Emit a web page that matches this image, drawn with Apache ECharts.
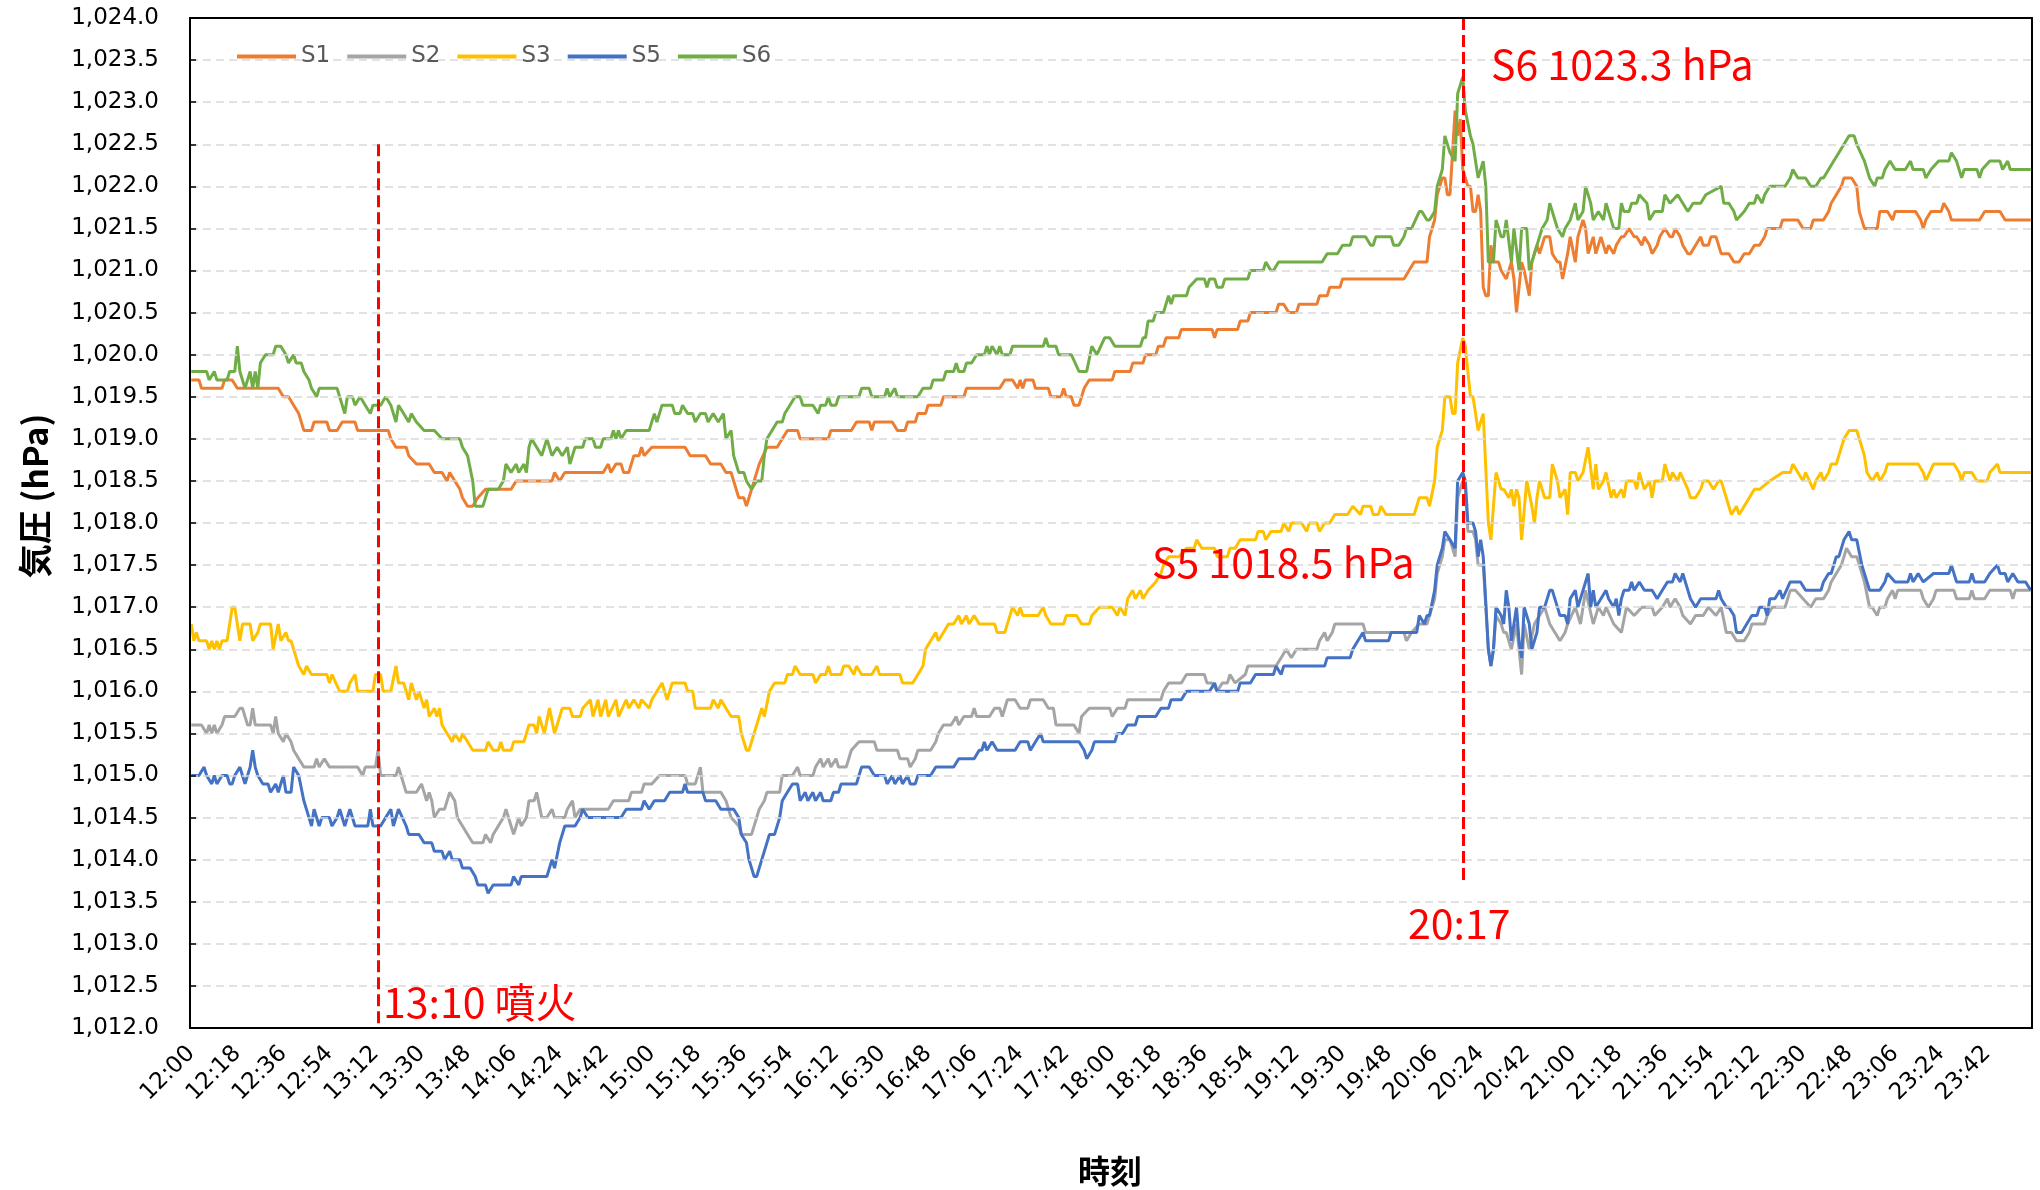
<!DOCTYPE html>
<html>
<head>
<meta charset="utf-8">
<script src="https://cdn.jsdelivr.net/npm/echarts@6/dist/echarts.min.js"></script>
<style>
  html, body { margin: 0; padding: 0; background: #fff; }
  #chart { width: 2040px; height: 1190px; }
</style>
</head>
<body>
<div id="chart"></div>
<script>
// 12:00 〜 23:59 の1分ごとのカテゴリ
var timeLabels = [];
for (var m = 0; m < 720; m++) {
  var hh = 12 + Math.floor(m / 60), mm = m % 60;
  timeLabels.push(hh + ':' + (mm < 10 ? '0' + mm : mm));
}

var seriesNames = ['S1', 'S2', 'S3', 'S5', 'S6'];
var seriesColors = ['#ED7D31', '#A5A5A5', '#FFC000', '#4472C4', '#70AD47'];

// [分(12:00からの経過), 気圧 hPa]
var s1 = [[0,1019.7],[3,1019.7],[4,1019.6],[12,1019.6],[13,1019.7],[16,1019.7],[18,1019.6],[34,1019.6],[36,1019.5],[38,1019.5],[40,1019.4],[42,1019.3],[44,1019.1],[47,1019.1],[48,1019.2],[53,1019.2],[54,1019.1],[57,1019.1],[59,1019.2],[64,1019.2],[65,1019.1],[77,1019.1],[78,1019.0],[80,1018.9],[84,1018.9],[85,1018.8],[88,1018.7],[93,1018.7],[95,1018.6],[98,1018.6],[100,1018.5],[101,1018.6],[103,1018.5],[105,1018.4],[106,1018.3],[108,1018.2],[110,1018.2],[112,1018.3],[115,1018.4],[125,1018.4],[127,1018.5],[141,1018.5],[142,1018.6],[144,1018.5],[146,1018.6],[161,1018.6],[163,1018.7],[164,1018.6],[166,1018.7],[168,1018.7],[169,1018.6],[171,1018.6],[173,1018.8],[175,1018.8],[176,1018.9],[177,1018.8],[180,1018.9],[193,1018.9],[195,1018.8],[201,1018.8],[203,1018.7],[207,1018.7],[209,1018.6],[211,1018.6],[212,1018.5],[214,1018.3],[216,1018.3],[217,1018.2],[218,1018.3],[220,1018.5],[222,1018.7],[225,1018.9],[229,1018.9],[231,1019.0],[233,1019.1],[237,1019.1],[238,1019.0],[241,1019.0],
  [244,1019.0],[249,1019.0],[250,1019.1],[258,1019.1],[260,1019.2],[265,1019.2],[266,1019.1],[267,1019.2],[274,1019.2],[276,1019.1],[279,1019.1],[280,1019.2],[283,1019.2],[284,1019.3],[287,1019.3],[288,1019.4],[293,1019.4],[294,1019.5],[302,1019.5],[303,1019.6],[316,1019.6],[318,1019.7],[321,1019.7],[323,1019.6],[324,1019.7],[325,1019.6],[326,1019.7],[329,1019.7],[330,1019.6],[335,1019.6],[336,1019.5],[340,1019.5],[341,1019.6],[342,1019.5],[344,1019.5],[345,1019.4],[347,1019.4],[349,1019.6],[351,1019.7],[360,1019.7],[361,1019.8],[367,1019.8],[368,1019.9],[372,1019.9],[373,1020.0],[377,1020.0],[378,1020.1],[380,1020.1],[381,1020.2],[386,1020.2],[387,1020.3],[399,1020.3],[400,1020.2],[401,1020.3],[409,1020.3],[410,1020.4],[413,1020.4],[414,1020.5],[424,1020.5],[425,1020.6],[427,1020.6],[429,1020.5],[432,1020.5],[433,1020.6],[440,1020.6],[441,1020.7],[444,1020.7],[445,1020.8],[449,1020.8],[450,1020.9],[474,1020.9],[476,1021.0],[478,1021.1],[480,1021.1],
  [481,1021.1],[483,1021.1],[484,1021.4],[486,1021.6],[487,1021.9],[489,1022.1],[490,1022.1],[491,1021.9],[492,1021.9],[494,1022.9],[495,1022.6],[496,1022.8],[497,1022.2],[498,1022.1],[499,1022.0],[500,1022.0],[501,1021.7],[502,1021.7],[503,1021.9],[504,1021.7],[505,1020.8],[506,1020.7],[507,1020.7],[508,1021.3],[509,1021.1],[511,1021.1],[512,1021.0],[514,1020.9],[516,1021.1],[517,1020.9],[518,1020.5],[520,1021.1],[521,1021.0],[523,1020.7],[524,1021.1],[526,1021.3],[527,1021.2],[529,1021.4],[531,1021.4],[532,1021.2],[534,1021.1],[535,1021.1],[536,1020.9],[538,1021.2],[539,1021.4],[541,1021.1],[542,1021.4],[544,1021.6],[545,1021.5],[546,1021.2],[548,1021.4],[549,1021.2],[551,1021.4],[553,1021.2],[554,1021.3],[556,1021.2],[557,1021.3],[559,1021.4],[560,1021.4],[562,1021.5],[564,1021.4],[565,1021.4],[567,1021.3],[568,1021.4],[570,1021.3],[571,1021.2],[573,1021.3],[574,1021.4],[576,1021.5],[578,1021.4],[579,1021.4],[580,1021.5],[582,1021.4],[583,1021.3],[585,1021.2],[586,1021.2],[588,1021.3],[590,1021.4],[591,1021.3],[593,1021.3],[594,1021.4],[596,1021.4],[598,1021.2],[601,1021.2],[603,1021.1],[605,1021.1],[607,1021.2],[609,1021.2],[611,1021.3],[613,1021.3],[615,1021.4],[616,1021.5],[621,1021.5],[622,1021.6],[628,1021.6],[630,1021.5],[633,1021.5],[634,1021.6],[638,1021.6],[640,1021.7],[641,1021.8],[643,1021.9],[645,1022.0],[646,1022.1],[649,1022.1],[651,1022.0],[652,1021.7],[654,1021.5],[659,1021.5],[660,1021.7],[663,1021.7],[665,1021.6],[666,1021.7],[674,1021.7],[676,1021.6],[677,1021.5],[678,1021.6],[680,1021.7],[684,1021.7],[685,1021.8],[687,1021.7],[688,1021.6],[699,1021.6],[701,1021.7],[707,1021.7],[709,1021.6],[719,1021.6]];

var s2 = [[0,1015.6],[4,1015.6],[6,1015.5],[7,1015.6],[8,1015.5],[9,1015.6],[10,1015.5],[12,1015.6],[13,1015.7],[17,1015.7],[19,1015.8],[20,1015.8],[22,1015.6],[23,1015.6],[24,1015.8],[25,1015.6],[31,1015.6],[32,1015.5],[33,1015.7],[34,1015.5],[36,1015.4],[37,1015.5],[39,1015.4],[40,1015.3],[42,1015.2],[44,1015.1],[48,1015.1],[49,1015.2],[50,1015.1],[52,1015.2],[54,1015.1],[65,1015.1],[67,1015.0],[68,1015.1],[72,1015.1],[73,1015.3],[74,1015.0],[80,1015.0],[81,1015.1],[82,1015.0],[84,1014.8],[88,1014.8],[90,1014.9],[91,1014.8],[92,1014.7],[93,1014.8],[94,1014.7],[95,1014.5],[97,1014.6],[99,1014.6],[100,1014.7],[101,1014.8],[103,1014.7],[104,1014.5],[106,1014.4],[108,1014.3],[110,1014.2],[114,1014.2],[115,1014.3],[117,1014.2],[118,1014.3],[120,1014.4],[122,1014.5],[123,1014.6],[125,1014.4],[126,1014.3],[128,1014.5],[129,1014.4],[131,1014.5],[132,1014.7],[134,1014.7],[135,1014.8],[137,1014.5],[139,1014.5],[141,1014.6],[142,1014.5],[146,1014.5],[147,1014.6],[149,1014.7],[150,1014.5],[152,1014.6],[163,1014.6],[165,1014.7],[171,1014.7],[172,1014.8],[176,1014.8],[177,1014.9],[180,1014.9],[183,1015.0],[193,1015.0],[194,1014.9],[197,1014.9],[199,1015.1],[200,1014.8],[207,1014.8],[209,1014.7],[211,1014.5],[214,1014.4],[215,1014.3],[219,1014.3],[221,1014.5],[222,1014.6],[224,1014.7],[225,1014.8],[230,1014.8],[231,1015.0],[235,1015.0],[237,1015.1],[238,1015.0],[241,1015.0],
  [243,1015.0],[244,1015.1],[246,1015.2],[247,1015.1],[249,1015.2],[250,1015.1],[252,1015.2],[253,1015.1],[256,1015.1],[258,1015.3],[261,1015.4],[267,1015.4],[268,1015.3],[276,1015.3],[277,1015.2],[280,1015.2],[281,1015.1],[283,1015.2],[284,1015.3],[289,1015.3],[291,1015.4],[292,1015.5],[294,1015.6],[297,1015.6],[299,1015.7],[300,1015.6],[302,1015.7],[305,1015.7],[306,1015.8],[307,1015.7],[312,1015.7],[314,1015.8],[316,1015.8],[317,1015.7],[319,1015.9],[322,1015.9],[324,1015.8],[327,1015.8],[328,1015.9],[333,1015.9],[335,1015.8],[337,1015.8],[338,1015.6],[345,1015.6],[347,1015.5],[348,1015.7],[351,1015.8],[359,1015.8],[360,1015.7],[362,1015.8],[365,1015.8],[366,1015.9],[379,1015.9],[380,1016.0],[382,1016.1],[387,1016.1],[389,1016.2],[396,1016.2],[397,1016.1],[399,1016.1],[401,1016.0],[403,1016.1],[405,1016.1],[406,1016.2],[408,1016.1],[412,1016.2],[413,1016.3],[424,1016.3],[426,1016.4],[428,1016.5],[430,1016.4],[432,1016.5],[440,1016.5],[441,1016.6],[443,1016.7],[444,1016.6],[446,1016.7],[447,1016.8],[458,1016.8],[459,1016.7],[474,1016.7],[475,1016.6],[477,1016.7],[480,1016.8],
  [481,1016.8],[483,1016.8],[484,1016.9],[486,1017.1],[487,1017.4],[489,1017.6],[490,1017.8],[492,1017.8],[494,1017.6],[495,1018.3],[497,1018.5],[498,1018.4],[499,1017.9],[501,1017.9],[502,1017.8],[503,1017.5],[505,1017.5],[507,1016.5],[508,1016.3],[509,1016.5],[510,1016.9],[512,1016.8],[513,1016.7],[514,1016.7],[516,1016.5],[518,1016.8],[520,1016.2],[521,1016.8],[523,1016.5],[525,1016.8],[527,1016.9],[529,1017.0],[531,1016.8],[533,1016.7],[535,1016.6],[537,1016.7],[538,1016.8],[541,1017.0],[543,1016.8],[545,1017.2],[548,1016.8],[550,1017.0],[552,1016.9],[553,1017.0],[556,1016.8],[559,1016.7],[561,1017.0],[564,1016.9],[567,1017.0],[571,1017.0],[572,1016.9],[575,1017.0],[577,1017.1],[578,1017.0],[580,1017.1],[582,1017.0],[583,1016.9],[586,1016.8],[588,1016.9],[591,1016.9],[593,1017.0],[596,1016.9],[598,1017.0],[600,1016.7],[602,1016.7],[604,1016.6],[607,1016.6],[609,1016.7],[610,1016.8],[615,1016.8],[616,1016.9],[618,1017.0],[623,1017.0],[625,1017.2],[627,1017.2],[630,1017.1],[633,1017.0],[635,1017.1],[638,1017.1],[640,1017.2],[641,1017.3],[643,1017.4],[645,1017.5],[647,1017.7],[649,1017.6],[651,1017.6],[654,1017.3],[656,1017.0],[657,1017.0],[659,1016.9],[660,1017.0],[662,1017.0],[663,1017.1],[665,1017.2],[666,1017.1],[667,1017.2],[676,1017.2],[677,1017.1],[679,1017.0],[681,1017.1],[682,1017.2],[689,1017.2],[690,1017.1],[695,1017.1],[696,1017.2],[697,1017.1],[701,1017.1],[703,1017.2],[711,1017.2],[712,1017.1],[713,1017.2],[719,1017.2]];

var s3 = [[0,1016.8],[1,1016.6],[2,1016.7],[3,1016.6],[6,1016.6],[7,1016.5],[8,1016.6],[9,1016.5],[10,1016.6],[11,1016.5],[12,1016.6],[14,1016.6],[16,1017.0],[17,1017.0],[19,1016.6],[20,1016.8],[23,1016.8],[24,1016.6],[26,1016.7],[27,1016.8],[31,1016.8],[32,1016.5],[34,1016.8],[35,1016.6],[37,1016.7],[38,1016.6],[39,1016.6],[40,1016.5],[42,1016.3],[44,1016.2],[45,1016.3],[47,1016.2],[53,1016.2],[54,1016.1],[55,1016.2],[58,1016.0],[61,1016.0],[62,1016.1],[64,1016.2],[65,1016.0],[71,1016.0],[72,1016.2],[74,1016.2],[75,1016.0],[78,1016.0],[80,1016.3],[81,1016.1],[83,1016.1],[85,1015.9],[86,1016.1],[88,1015.9],[89,1016.0],[91,1015.8],[92,1015.9],[93,1015.7],[95,1015.8],[96,1015.7],[97,1015.8],[98,1015.6],[100,1015.5],[102,1015.4],[103,1015.5],[105,1015.4],[106,1015.5],[108,1015.4],[110,1015.3],[115,1015.3],[116,1015.4],[118,1015.3],[120,1015.3],[121,1015.4],[122,1015.3],[125,1015.3],[126,1015.4],[130,1015.4],[132,1015.6],[134,1015.6],[135,1015.5],[136,1015.7],[138,1015.5],[140,1015.8],[142,1015.5],[143,1015.6],[145,1015.8],[148,1015.8],[149,1015.7],[152,1015.7],[153,1015.8],[156,1015.9],[157,1015.7],[159,1015.9],[160,1015.7],[162,1015.9],[163,1015.7],[166,1015.9],[167,1015.7],[170,1015.9],[171,1015.8],[173,1015.9],[175,1015.8],[176,1015.9],[179,1015.8],[180,1015.9],[182,1016.0],[184,1016.1],[186,1015.9],[188,1016.1],[193,1016.1],[194,1016.0],[196,1016.0],[197,1015.8],[203,1015.8],[204,1015.9],[206,1015.8],[207,1015.9],[209,1015.8],[211,1015.7],[214,1015.7],[215,1015.5],[217,1015.3],[218,1015.3],[220,1015.5],[221,1015.6],[223,1015.8],[224,1015.7],[226,1016.0],[228,1016.1],[232,1016.1],[233,1016.2],[235,1016.2],[236,1016.3],[238,1016.2],[241,1016.2],
  [243,1016.2],[244,1016.1],[246,1016.2],[248,1016.2],[249,1016.3],[250,1016.2],[254,1016.2],[255,1016.3],[257,1016.3],[259,1016.2],[260,1016.3],[262,1016.2],[266,1016.2],[268,1016.3],[269,1016.2],[277,1016.2],[278,1016.1],[282,1016.1],[284,1016.2],[286,1016.3],[287,1016.5],[289,1016.6],[291,1016.7],[292,1016.6],[294,1016.7],[296,1016.8],[298,1016.8],[300,1016.9],[301,1016.8],[303,1016.9],[304,1016.8],[306,1016.9],[308,1016.8],[314,1016.8],[315,1016.7],[318,1016.7],[320,1016.9],[321,1017.0],[323,1016.9],[324,1017.0],[325,1016.9],[331,1016.9],[333,1017.0],[334,1016.9],[336,1016.8],[341,1016.8],[342,1016.9],[346,1016.9],[348,1016.8],[351,1016.8],[352,1016.9],[355,1017.0],[360,1017.0],[362,1016.9],[363,1017.0],[365,1016.9],[366,1017.1],[368,1017.2],[369,1017.1],[371,1017.2],[372,1017.1],[374,1017.2],[377,1017.3],[379,1017.4],[380,1017.5],[382,1017.6],[386,1017.6],[389,1017.7],[392,1017.7],[393,1017.8],[395,1017.7],[400,1017.7],[401,1017.6],[405,1017.6],[406,1017.7],[408,1017.7],[410,1017.8],[416,1017.8],[417,1017.9],[419,1017.9],[420,1017.8],[422,1017.9],[426,1017.9],[427,1018.0],[429,1017.9],[430,1018.0],[434,1018.0],[436,1017.9],[437,1018.0],[440,1018.0],[441,1017.9],[443,1018.0],[445,1018.0],[447,1018.1],[452,1018.1],[454,1018.2],[457,1018.1],[458,1018.2],[461,1018.2],[462,1018.1],[464,1018.1],[465,1018.2],[467,1018.1],[478,1018.1],[480,1018.3],
  [481,1018.3],[483,1018.3],[484,1018.2],[486,1018.5],[487,1018.9],[489,1019.1],[490,1019.5],[492,1019.5],[493,1019.3],[494,1019.3],[495,1019.9],[497,1020.2],[498,1020.1],[500,1019.5],[501,1019.5],[502,1019.3],[503,1019.1],[505,1019.3],[507,1018.0],[508,1017.8],[509,1018.2],[510,1018.6],[512,1018.4],[513,1018.4],[515,1018.3],[516,1018.4],[517,1018.2],[518,1018.4],[519,1018.3],[520,1017.8],[522,1018.5],[524,1018.2],[525,1018.0],[526,1018.3],[527,1018.5],[529,1018.3],[531,1018.3],[532,1018.7],[534,1018.5],[535,1018.3],[537,1018.4],[538,1018.1],[539,1018.6],[541,1018.6],[542,1018.5],[544,1018.6],[546,1018.9],[548,1018.4],[549,1018.7],[550,1018.4],[552,1018.5],[553,1018.6],[555,1018.3],[556,1018.4],[557,1018.3],[559,1018.4],[560,1018.3],[561,1018.5],[564,1018.5],[565,1018.4],[566,1018.6],[568,1018.4],[570,1018.5],[571,1018.3],[572,1018.5],[575,1018.5],[576,1018.7],[578,1018.5],[579,1018.6],[581,1018.5],[582,1018.6],[585,1018.4],[586,1018.3],[588,1018.3],[590,1018.4],[591,1018.5],[593,1018.5],[595,1018.4],[597,1018.5],[598,1018.5],[600,1018.3],[602,1018.1],[604,1018.2],[605,1018.1],[607,1018.2],[609,1018.3],[611,1018.4],[613,1018.4],[617,1018.5],[622,1018.6],[625,1018.6],[626,1018.7],[628,1018.6],[630,1018.5],[631,1018.6],[634,1018.4],[635,1018.5],[637,1018.6],[638,1018.5],[640,1018.6],[641,1018.7],[643,1018.7],[645,1018.9],[646,1019.0],[648,1019.1],[651,1019.1],[652,1019.0],[654,1018.8],[655,1018.6],[657,1018.5],[659,1018.6],[660,1018.5],[662,1018.6],[663,1018.7],[675,1018.7],[677,1018.6],[678,1018.5],[681,1018.7],[689,1018.7],[691,1018.6],[692,1018.5],[693,1018.6],[696,1018.6],[698,1018.5],[702,1018.5],[703,1018.6],[706,1018.7],[707,1018.6],[719,1018.6]];

var s5 = [[0,1015.0],[3,1015.0],[5,1015.1],[6,1015.0],[8,1014.9],[9,1015.0],[10,1014.9],[12,1015.0],[14,1015.0],[15,1014.9],[16,1014.9],[17,1015.0],[19,1015.1],[20,1015.0],[21,1014.9],[23,1015.1],[24,1015.3],[25,1015.1],[26,1015.0],[28,1014.9],[30,1014.9],[31,1014.8],[33,1014.9],[34,1014.8],[36,1015.0],[37,1014.8],[39,1014.8],[40,1015.1],[42,1015.0],[44,1014.7],[45,1014.6],[47,1014.4],[48,1014.6],[50,1014.4],[51,1014.5],[54,1014.5],[55,1014.4],[57,1014.5],[58,1014.6],[60,1014.4],[62,1014.6],[64,1014.4],[69,1014.4],[70,1014.6],[71,1014.4],[74,1014.4],[76,1014.5],[78,1014.6],[79,1014.4],[81,1014.6],[84,1014.4],[85,1014.3],[89,1014.3],[91,1014.2],[94,1014.2],[95,1014.1],[98,1014.1],[99,1014.0],[101,1014.1],[102,1014.0],[105,1014.0],[106,1013.9],[109,1013.9],[111,1013.8],[112,1013.7],[115,1013.7],[116,1013.6],[118,1013.7],[125,1013.7],[126,1013.8],[128,1013.7],[129,1013.8],[139,1013.8],[140,1013.9],[141,1014.0],[142,1013.9],[144,1014.2],[146,1014.4],[150,1014.4],[152,1014.5],[153,1014.6],[155,1014.5],[168,1014.5],[170,1014.6],[176,1014.6],[177,1014.7],[179,1014.6],[181,1014.7],[185,1014.7],[187,1014.8],[192,1014.8],[193,1014.9],[194,1014.8],[200,1014.8],[201,1014.7],[205,1014.7],[207,1014.6],[212,1014.6],[214,1014.5],[215,1014.3],[217,1014.2],[218,1014.0],[220,1013.8],[221,1013.8],[223,1014.0],[224,1014.1],[226,1014.3],[228,1014.3],[230,1014.5],[231,1014.7],[233,1014.8],[235,1014.9],[237,1014.9],[238,1014.7],[240,1014.8],[241,1014.7],
  [243,1014.8],[244,1014.7],[246,1014.8],[247,1014.7],[250,1014.7],[251,1014.8],[253,1014.8],[254,1014.9],[260,1014.9],[262,1015.1],[265,1015.1],[267,1015.0],[271,1015.0],[272,1014.9],[274,1015.0],[275,1014.9],[277,1015.0],[278,1014.9],[280,1015.0],[281,1014.9],[283,1014.9],[284,1015.0],[289,1015.0],[291,1015.1],[298,1015.1],[300,1015.2],[306,1015.2],[308,1015.3],[309,1015.3],[310,1015.4],[311,1015.3],[313,1015.4],[315,1015.3],[322,1015.3],[324,1015.4],[327,1015.4],[328,1015.3],[330,1015.4],[332,1015.5],[333,1015.4],[347,1015.4],[349,1015.3],[350,1015.2],[352,1015.3],[353,1015.4],[361,1015.4],[362,1015.5],[364,1015.5],[366,1015.6],[369,1015.6],[370,1015.7],[377,1015.7],[379,1015.8],[382,1015.8],[383,1015.9],[387,1015.9],[389,1016.0],[398,1016.0],[400,1016.1],[401,1016.0],[409,1016.0],[410,1016.1],[414,1016.1],[416,1016.2],[423,1016.2],[424,1016.3],[426,1016.2],[427,1016.3],[443,1016.3],[444,1016.4],[453,1016.4],[454,1016.5],[456,1016.6],[458,1016.7],[459,1016.6],[468,1016.6],[469,1016.7],[479,1016.7],[480,1016.9],
  [482,1016.8],[483,1016.9],[484,1016.9],[486,1017.2],[487,1017.5],[489,1017.7],[490,1017.9],[492,1017.8],[494,1017.7],[495,1018.5],[497,1018.6],[498,1018.5],[499,1018.0],[501,1018.0],[502,1017.9],[503,1017.6],[504,1017.8],[505,1017.6],[507,1016.5],[508,1016.3],[509,1016.5],[510,1017.0],[512,1016.9],[513,1016.8],[514,1017.2],[515,1017.0],[516,1016.6],[518,1017.0],[519,1016.6],[520,1016.4],[521,1017.0],[523,1016.8],[524,1016.5],[526,1016.7],[527,1017.0],[529,1017.0],[531,1017.2],[532,1017.2],[534,1017.0],[535,1016.9],[537,1016.9],[538,1016.8],[539,1017.1],[541,1017.2],[542,1017.0],[544,1017.2],[546,1017.4],[547,1017.0],[548,1017.2],[549,1017.0],[551,1017.1],[553,1017.2],[554,1017.1],[556,1017.0],[557,1017.1],[558,1016.9],[559,1017.1],[560,1017.2],[562,1017.2],[563,1017.3],[564,1017.2],[566,1017.3],[568,1017.2],[571,1017.2],[573,1017.1],[575,1017.2],[577,1017.3],[579,1017.3],[580,1017.4],[582,1017.3],[583,1017.4],[585,1017.2],[586,1017.1],[588,1017.0],[590,1017.1],[596,1017.1],[597,1017.2],[598,1017.1],[600,1017.0],[601,1017.0],[603,1016.9],[604,1016.7],[606,1016.7],[608,1016.8],[610,1016.9],[612,1016.9],[613,1017.0],[615,1017.0],[616,1016.9],[617,1017.1],[619,1017.1],[621,1017.2],[622,1017.1],[625,1017.3],[629,1017.3],[631,1017.2],[637,1017.2],[638,1017.3],[640,1017.4],[641,1017.4],[643,1017.6],[644,1017.6],[646,1017.8],[648,1017.9],[649,1017.8],[651,1017.8],[653,1017.5],[655,1017.3],[656,1017.2],[660,1017.2],[662,1017.3],[663,1017.4],[666,1017.3],[671,1017.3],[672,1017.4],[673,1017.3],[675,1017.4],[677,1017.3],[681,1017.4],[687,1017.4],[688,1017.5],[690,1017.3],[695,1017.3],[696,1017.4],[697,1017.3],[701,1017.3],[703,1017.4],[706,1017.5],[707,1017.4],[709,1017.4],[710,1017.3],[712,1017.4],[714,1017.3],[717,1017.3],[719,1017.2]];

var s6 = [[0,1019.8],[6,1019.8],[7,1019.7],[9,1019.8],[10,1019.7],[14,1019.7],[15,1019.8],[17,1019.8],[18,1020.1],[19,1019.8],[21,1019.6],[23,1019.8],[24,1019.6],[25,1019.8],[26,1019.6],[27,1019.9],[29,1020.0],[32,1020.0],[33,1020.1],[35,1020.1],[37,1020.0],[38,1019.9],[40,1020.0],[41,1019.9],[43,1019.9],[44,1019.8],[46,1019.7],[47,1019.6],[49,1019.5],[50,1019.6],[57,1019.6],[58,1019.5],[60,1019.3],[61,1019.5],[63,1019.5],[64,1019.4],[66,1019.5],[68,1019.4],[70,1019.3],[71,1019.4],[74,1019.4],[76,1019.5],[78,1019.4],[80,1019.2],[81,1019.4],[83,1019.3],[85,1019.2],[86,1019.3],[88,1019.2],[91,1019.1],[95,1019.1],[98,1019.0],[105,1019.0],[106,1018.9],[108,1018.8],[110,1018.5],[111,1018.2],[114,1018.2],[116,1018.4],[120,1018.4],[122,1018.5],[123,1018.7],[125,1018.6],[127,1018.7],[128,1018.6],[130,1018.7],[131,1018.6],[132,1018.9],[133,1019.0],[135,1018.9],[137,1018.8],[139,1019.0],[141,1018.8],[143,1018.9],[145,1018.8],[147,1018.9],[148,1018.7],[150,1018.9],[153,1018.9],[154,1019.0],[157,1019.0],[158,1018.9],[160,1018.9],[161,1019.0],[164,1019.0],[165,1019.1],[166,1019.0],[167,1019.1],[168,1019.0],[170,1019.1],[179,1019.1],[181,1019.3],[182,1019.2],[184,1019.4],[188,1019.4],[189,1019.3],[191,1019.3],[192,1019.4],[194,1019.3],[196,1019.3],[197,1019.2],[199,1019.3],[201,1019.3],[202,1019.2],[204,1019.3],[206,1019.2],[208,1019.3],[209,1019.0],[211,1019.1],[212,1018.8],[214,1018.6],[216,1018.6],[217,1018.5],[219,1018.4],[221,1018.5],[223,1018.5],[224,1018.8],[225,1019.0],[227,1019.1],[229,1019.2],[231,1019.2],[232,1019.3],[234,1019.4],[236,1019.5],[238,1019.5],[239,1019.4],[241,1019.4],
  [243,1019.4],[245,1019.3],[246,1019.4],[248,1019.4],[249,1019.5],[250,1019.4],[252,1019.4],[253,1019.5],[261,1019.5],[262,1019.6],[265,1019.6],[266,1019.5],[271,1019.5],[272,1019.6],[273,1019.5],[275,1019.6],[276,1019.5],[284,1019.5],[286,1019.6],[289,1019.6],[290,1019.7],[294,1019.7],[295,1019.8],[298,1019.8],[299,1019.9],[300,1019.8],[302,1019.8],[303,1019.9],[305,1019.9],[307,1020.0],[310,1020.0],[311,1020.1],[312,1020.0],[313,1020.1],[315,1020.0],[316,1020.1],[317,1020.0],[320,1020.0],[321,1020.1],[333,1020.1],[334,1020.2],[335,1020.1],[338,1020.1],[339,1020.0],[344,1020.0],[347,1019.8],[350,1019.8],[352,1020.1],[354,1020.0],[357,1020.2],[359,1020.2],[361,1020.1],[371,1020.1],[372,1020.2],[373,1020.2],[374,1020.4],[376,1020.4],[377,1020.5],[380,1020.5],[382,1020.7],[383,1020.6],[384,1020.7],[389,1020.7],[390,1020.8],[393,1020.9],[396,1020.9],[397,1020.8],[398,1020.9],[400,1020.9],[401,1020.8],[403,1020.8],[404,1020.9],[413,1020.9],[414,1021.0],[419,1021.0],[420,1021.1],[422,1021.0],[423,1021.0],[425,1021.1],[442,1021.1],[444,1021.2],[448,1021.2],[450,1021.3],[453,1021.3],[454,1021.4],[459,1021.4],[461,1021.3],[462,1021.3],[463,1021.4],[469,1021.4],[470,1021.3],[472,1021.3],[474,1021.4],[475,1021.5],[477,1021.5],[480,1021.7],
  [481,1021.7],[483,1021.6],[484,1021.6],[486,1021.7],[487,1022.0],[489,1022.2],[490,1022.6],[492,1022.4],[494,1022.3],[495,1023.1],[497,1023.3],[498,1022.9],[500,1022.6],[501,1022.5],[503,1022.1],[505,1022.3],[506,1022.0],[507,1021.1],[509,1021.1],[510,1021.6],[512,1021.4],[513,1021.4],[514,1021.6],[516,1021.1],[517,1021.5],[519,1021.0],[520,1021.5],[522,1021.5],[523,1021.0],[525,1021.2],[527,1021.4],[528,1021.5],[530,1021.6],[531,1021.8],[533,1021.6],[534,1021.5],[536,1021.4],[537,1021.5],[539,1021.6],[541,1021.8],[542,1021.6],[544,1021.7],[545,1022.0],[547,1021.8],[548,1021.6],[550,1021.7],[552,1021.6],[553,1021.8],[555,1021.6],[556,1021.5],[558,1021.5],[559,1021.8],[560,1021.7],[562,1021.7],[563,1021.8],[565,1021.8],[566,1021.9],[569,1021.8],[570,1021.6],[572,1021.7],[575,1021.7],[576,1021.9],[578,1021.8],[581,1021.9],[583,1021.8],[585,1021.7],[587,1021.8],[590,1021.8],[592,1021.9],[598,1022.0],[599,1021.8],[601,1021.8],[603,1021.7],[604,1021.6],[607,1021.7],[609,1021.8],[611,1021.8],[612,1021.9],[614,1021.8],[615,1021.9],[617,1022.0],[623,1022.0],[625,1022.1],[626,1022.2],[628,1022.1],[631,1022.1],[633,1022.0],[635,1022.0],[637,1022.1],[638,1022.1],[640,1022.2],[642,1022.3],[644,1022.4],[646,1022.5],[648,1022.6],[650,1022.6],[651,1022.5],[654,1022.3],[656,1022.1],[658,1022.0],[659,1022.1],[661,1022.1],[662,1022.2],[664,1022.3],[666,1022.2],[670,1022.2],[672,1022.3],[673,1022.2],[677,1022.2],[678,1022.1],[680,1022.2],[683,1022.3],[687,1022.3],[688,1022.4],[690,1022.3],[692,1022.1],[693,1022.2],[698,1022.2],[699,1022.1],[700,1022.2],[703,1022.3],[707,1022.3],[708,1022.2],[710,1022.3],[711,1022.2],[719,1022.2]];

var seriesData = [s1, s2, s3, s5, s6];

function fmtPressure(v) {
  var s = v.toFixed(1);
  return s.replace(/^(\d)(\d{3})/, '$1,$2');
}

var chart = echarts.init(document.getElementById('chart'));

var series = seriesNames.map(function (name, i) {
  return {
    name: name,
    type: 'line',
    data: seriesData[i],
    showSymbol: false,
    symbol: 'none',
    color: seriesColors[i],
    lineStyle: { width: 3, color: seriesColors[i] },
    animation: false
  };
});

// 噴火時刻と S6 最大時刻の赤い破線
series[4].markLine = {
  silent: true,
  symbol: 'none',
  animation: false,
  label: { show: false },
  lineStyle: { color: '#FF0000', width: 3, type: [12, 5] },
  data: [
    [{ xAxis: '13:13', yAxis: 1022.5 }, { xAxis: '13:13', yAxis: 1012 }],
    [{ xAxis: '20:17', yAxis: 1024 }, { xAxis: '20:17', yAxis: 1013.7 }]
  ]
};

var annoFont = '41px "Noto Sans CJK JP"';
var frameLine = { show: true, lineStyle: { color: '#000', width: 2 } };

var option = {
  backgroundColor: '#fff',
  animation: false,
  grid: {
    left: 190, right: 8, top: 18, bottom: 162,
    containLabel: false
  },
  legend: {
    data: seriesNames,
    left: 232, top: 40,
    icon: 'rect',
    itemWidth: 59, itemHeight: 4, itemGap: 17,
    textStyle: { color: '#595959', fontSize: 23, fontFamily: 'DejaVu Sans' }
  },
  xAxis: [{
    type: 'category',
    data: timeLabels,
    boundaryGap: true,
    z: 5,
    axisLine: frameLine,
    axisTick: { inside: true, interval: 9, length: 7, lineStyle: { color: '#000', width: 1.5 } },
    axisLabel: {
      interval: 17, rotate: 45, margin: 22,
      color: '#000', fontSize: 23, fontFamily: 'DejaVu Sans'
    },
    splitLine: { show: false }
  }, {
    // 上側の枠線
    type: 'category',
    data: timeLabels,
    position: 'top',
    z: 5,
    axisLine: frameLine,
    axisTick: { show: false },
    axisLabel: { show: false },
    splitLine: { show: false }
  }],
  yAxis: [{
    type: 'value',
    min: 1012, max: 1024, interval: 0.5,
    z: 4,
    axisLine: frameLine,
    axisTick: { show: true, inside: true, length: 6, lineStyle: { color: '#000', width: 1.5 } },
    axisLabel: {
      margin: 31, color: '#000', fontSize: 23, fontFamily: 'DejaVu Sans',
      formatter: fmtPressure
    },
    splitLine: { show: true, lineStyle: { color: '#D9D9D9', width: 1.5, type: [8, 5] } }
  }, {
    // 右側の枠線
    type: 'value',
    min: 1012, max: 1024, interval: 0.5,
    position: 'right',
    z: 5,
    axisLine: frameLine,
    axisTick: { show: false },
    axisLabel: { show: false },
    splitLine: { show: false }
  }],
  graphic: [
    { type: 'text', z: 100, style: { x: 1110, y: 1171, text: '時刻', font: 'bold 32px "Noto Sans CJK JP"', fill: '#000', align: 'center', verticalAlign: 'middle' } },
    { type: 'text', z: 100, x: 35, y: 496, rotation: Math.PI / 2,
      style: { x: 0, y: 0, text: '気圧 (hPa)', font: 'bold 34px "Noto Sans CJK JP"', fill: '#000', align: 'center', verticalAlign: 'middle' } },
    { type: 'text', z: 100, style: { x: 1491, y: 64, text: 'S6 1023.3 hPa', font: annoFont, fill: '#FF0000', align: 'left', verticalAlign: 'middle' } },
    { type: 'text', z: 100, style: { x: 1152, y: 562, text: 'S5 1018.5 hPa', font: annoFont, fill: '#FF0000', align: 'left', verticalAlign: 'middle' } },
    { type: 'text', z: 100, style: { x: 1408, y: 923, text: '20:17', font: annoFont, fill: '#FF0000', align: 'left', verticalAlign: 'middle' } },
    { type: 'text', z: 100, style: { x: 383, y: 1002, text: '13:10 噴火', font: annoFont, fill: '#FF0000', align: 'left', verticalAlign: 'middle' } }
  ],
  series: series
};

chart.setOption(option);
</script>
</body>
</html>
